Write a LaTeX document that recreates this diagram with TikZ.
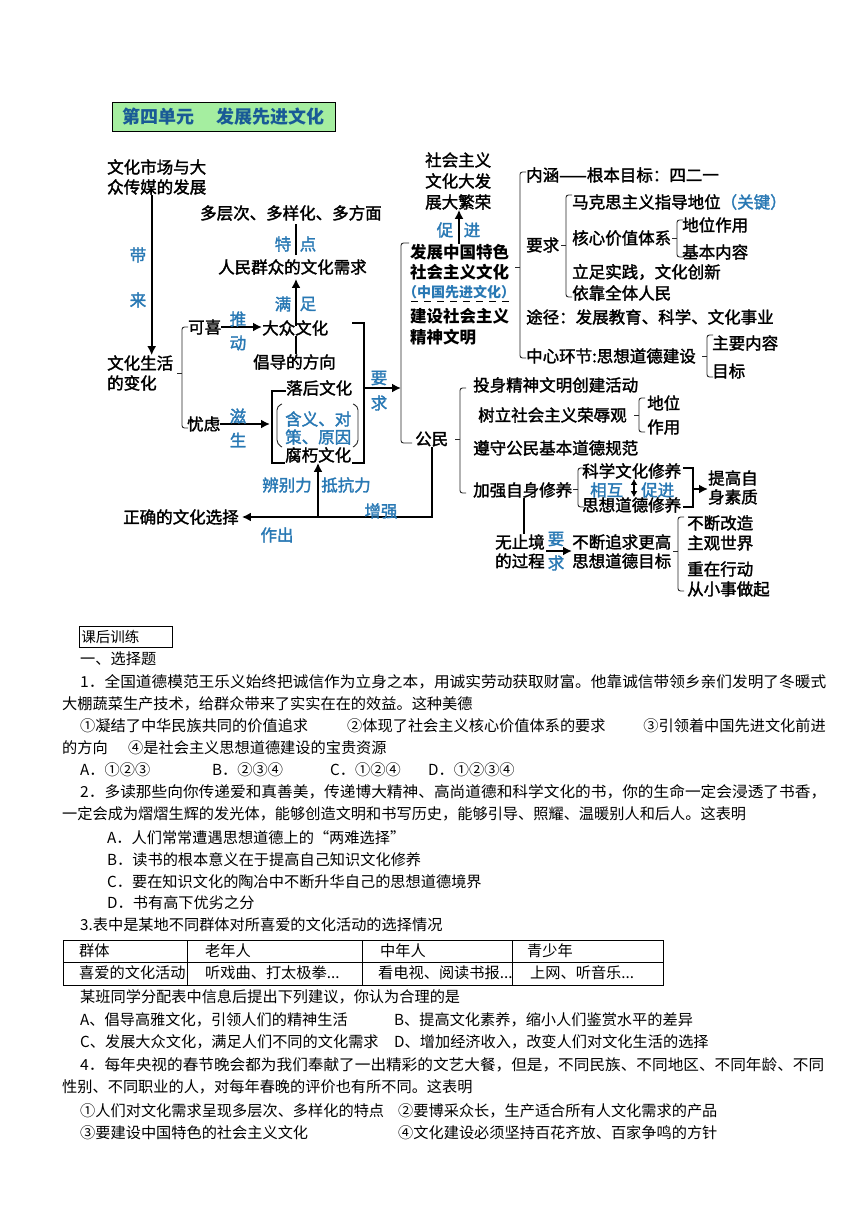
\documentclass[tikz,border=0pt]{standalone}
\usepackage{fontspec}
\usepackage{graphicx}
\usetikzlibrary{arrows.meta}
\setmainfont{Noto Sans CJK SC}
\newfontfamily\dg{Noto Sans CJK SC}[FakeBold=1.8]
\newfontfamily\bd{Noto Sans CJK SC}
\definecolor{lblue}{RGB}{40,120,180}
\definecolor{tblue}{RGB}{25,90,150}
\definecolor{tgreen}{RGB}{165,238,160}
\newcommand{\jl}[2]{\resizebox{#1pt}{\height}{#2}}
\newcommand{\lbrc}[4]{%
  \draw[brk] ({#1+6},#2) -- (#1,#2) -- (#1,#3) -- ({#1+6},#3);
  \draw[brk,rounded corners=0pt] (#1,#4) -- ({#1-5},#4);}
\tikzset{
  t/.style={inner sep=0pt, anchor=west, font=\dg\fontsize{16.5}{18}\selectfont},
  tb/.style={inner sep=0pt, anchor=west, font=\bd\bfseries\fontsize{16.5}{18}\selectfont},
  bl/.style={inner sep=0pt, anchor=center, text=lblue, font=\dg\fontsize{16.5}{18}\selectfont},
  body/.style={inner sep=0pt, anchor=west, font=\bd\fontsize{15.2}{17}\selectfont},
  ln/.style={line width=2pt},
  brk/.style={line width=0.9pt, rounded corners=2.5pt, draw=black!85},
  arr/.style={line width=2pt, -{Latex[length=9pt,width=9pt]}},
}
\begin{document}
\begin{tikzpicture}[x=1pt,y=-1pt]
\useasboundingbox (0,0) rectangle (860,1216);
\fill[white] (0,0) rectangle (860,1216);

% ---------- title ----------
\node[draw, fill=tgreen, line width=0.8pt, minimum width=223pt, minimum height=29pt, inner sep=0pt,
  text=tblue, font=\bd\bfseries\fontsize{18}{20}\selectfont] (title) at (223.5,116.5)
  {第四单元\hspace{22pt}发展先进文化};

% ---------- left part ----------
\node[t] (wh1) at (107,167) {文化市场与大};
\node[t] (wh2) at (107,187) {众传媒的发展};
\node[bl] (dai) at (138,255) {带};
\node[bl] (lai) at (138,300) {来};
\node[t] (wc1) at (107,363) {文化生活};
\node[t] (wc2) at (107,383) {的变化};
\draw[arr] ([xshift=-5pt]wh2.south) -- ([xshift=-5pt]wh2.south |- wc1.north);

\lbrc{182}{327}{428}{373}
\node[t] (kx) at (188,327) {可喜};
\node[t] (yl) at (187,424) {忧虑};
\node[t] (dz) at (262,328) {大众文化};
\node[t] (xq) at (218,267) {人民群众的文化需求};
\node[t] (dc) at (200,213) {多层次、多样化、多方面};
\node[t] (cd) at (253,362) {倡导的方向};
\coordinate (mx) at (296,0);
\draw[arr] (kx.east) -- (kx.east -| dz.west);
\node[bl] (tui) at (238,319) {推};
\node[bl] (dong) at (238,343) {动};
\draw[arr, shorten >=4pt] ([yshift=-6pt]dz.north -| mx) -- (xq.south -| mx);
\node[bl] (man) at (283,304) {满};
\node[bl] (zu) at (308,304) {足};
\draw[ln, shorten >=3pt, shorten <=4pt] (xq.north -| mx) -- (dc.south -| mx);
\node[bl] (te) at (283,244) {特};
\node[bl] (dian) at (308,244) {点};
\draw[ln] (dz.south -| mx) -- (cd.north -| mx);

\node[t] (lh) at (286,388) {落后文化};
\node[t] (fx) at (285,455) {腐朽文化};
\draw[ln] (lh.west) ++(0,3) -- (272,391) -- (272,463) -- (285,463);
\node[bl, anchor=west] (hy1) at (285,419) {含义、对};
\node[bl, anchor=west] (hy2) at (285,437) {策、原因};
\draw[brk, rounded corners=4pt] (282,404) -- (277,406) -- (277,444) -- (282,447);
\draw[brk, rounded corners=4pt] (353,404) -- (358,406) -- (358,444) -- (353,447);
\coordinate (lbx) at (270,0);
\draw[arr] (yl.east) -- (yl.east -| lbx);
\node[bl] (zi) at (238,416) {滋};
\node[bl] (sheng) at (238,440) {生};

\draw[ln] (352,323) -- (364,323) -- (364,463) -- (352,463);
\coordinate (rb) at (364,388);
\coordinate (bigx) at (401,0);
\draw[arr] (rb) -- (rb -| bigx);
\node[bl] (yao1) at (379,378) {要};
\node[bl] (qiu1) at (379,403) {求};

% ---------- middle block ----------
\draw[brk] (409,243) -- (401,243) -- (401,443) -- (412,443);
\node[tb] (f1) at (410,252) {发展中国特色};
\node[tb] (f2) at (410,272) {社会主义文化};
\node[inner sep=0pt, anchor=west, text=lblue, font=\bd\bfseries\fontsize{14}{15}\selectfont] (f3) at (403,292) {（中国先进文化）};
\draw[line width=1pt, dash pattern=on 7pt off 6pt] (411,301) -- (511,301);
\node[tb] (f4) at (410,316) {建设社会主义};
\node[tb] (f5) at (410,337) {精神文明};
\node[t] (s1) at (425,160) {社会主义};
\node[t] (s2) at (425,181) {文化大发};
\node[t] (s3) at (425,202) {展大繁荣};
\coordinate (cx) at (459,0);
\draw[arr] (f1.north -| cx) -- (s3.south -| cx);
\node[bl] (cu) at (445,230) {促};
\node[bl] (jin) at (472,230) {进};

% ---------- right upper ----------
\lbrc{520}{172}{358}{267}
\node[t] (nh) at (526,175) {内涵——根本目标：四二一};
\node[t] (yq) at (526,245) {要求};
\lbrc{566}{195}{297}{245}
\node[t] (m1) at (572,202) {马克思主义指导地位{\color{lblue}（关键）}};
\node[t] (hx) at (572,238) {核心价值体系};
\lbrc{677}{220}{257}{238}
\node[t] (dw) at (682,225) {地位作用};
\node[t] (jb) at (682,252) {基本内容};
\node[t] (lz) at (572,272) {立足实践，文化创新};
\node[t] (yk) at (572,293) {依靠全体人民};
\node[t] (tj) at (526,317) {途径：发展教育、科学、文化事业};
\node[t] (zx) at (526,356) {中心环节:思想道德建设};
\lbrc{707}{335}{377}{356}
\node[t] (zy) at (712,343) {主要内容};
\node[t] (mb) at (712,371) {目标};

% ---------- right lower ----------
\node[t] (gm) at (415,439) {公民};
\lbrc{460}{388}{493}{439}
\node[t] (ts) at (473,385) {投身精神文明创建活动};
\node[t] (sl) at (478,415) {树立社会主义荣辱观};
\lbrc{639}{398}{432}{415}
\node[t] (dw2) at (647,403) {地位};
\node[t] (zy2) at (647,427) {作用};
\node[t] (zs) at (473,448) {遵守公民基本道德规范};
\node[t] (jq) at (473,490) {加强自身修养};
\lbrc{578}{468}{507}{489}
\node[t] (kw) at (582,471) {科学文化修养};
\node[t] (sx) at (582,505) {思想道德修养};
\node[bl, anchor=west] (xh) at (590,490) {相互};
\node[bl, anchor=west] (cj) at (641,490) {促进};
\coordinate (dax) at (634,0);
\draw[line width=1.8pt, {Latex[length=6pt,width=7pt]}-{Latex[length=6pt,width=7pt]}] (kw.south -| dax) -- (sx.north -| dax);
\draw[line width=1.8pt] (683,468) -- (693,468) -- (693,507) -- (683,507);
\node[t] (tg1) at (708,478) {提高自};
\node[t] (tg2) at (708,497) {身素质};
\coordinate (rbr) at (693,489);
\draw[arr] (rbr) -- (rbr -| tg1.west);

\coordinate (vx) at (524,0);
\node[t] (wz1) at (495,542) {无止境};
\node[t] (wz2) at (495,561) {的过程};
\draw[line width=1.5pt] (jq.south -| vx) -- (wz1.north -| vx);
\node[t] (bd1) at (572,542) {不断追求更高};
\node[t] (bd2) at (572,561) {思想道德目标};
\coordinate (ya) at (546,551);
\draw[arr] (ya) -- (ya -| bd1.west);
\node[bl] (yao2) at (556,539) {要};
\node[bl] (qiu2) at (556,563) {求};
\lbrc{678}{517}{591}{551}
\node[t] (gz1) at (687,523) {不断改造};
\node[t] (gz2) at (687,543) {主观世界};
\node[t] (zz1) at (687,569) {重在行动};
\node[t] (zz2) at (687,589) {从小事做起};

% ---------- bottom arrows ----------
\node[t] (zq) at (123,517) {正确的文化选择};
\coordinate (gmx) at (432,517);
\draw[arr, shorten >=3pt] (gm.south -| gmx) -- (gmx) -- (gmx -| zq.east);
\coordinate (vb) at (318,517);
\draw[arr] (vb) -- (vb |- fx.south);
\node[bl] (bbl) at (287,485) {辨别力};
\node[bl] (dkl) at (346,485) {抵抗力};
\node[bl] (zq2) at (381,511) {增强};
\node[bl] (zc) at (277,535) {作出};

% ---------- exercises ----------
\node[draw, line width=0.7pt, anchor=west, inner sep=0pt, minimum height=21pt, minimum width=93pt,
  text width=89pt, align=left, font=\bd\fontsize{14.5}{16}\selectfont] (kh) at (79,637) {课后训练};
\node[body] (xz) at (80,659) {一、选择题};
\node[body] (q1a) at (80,682) {\jl{746}{1．全国道德模范王乐义始终把诚信作为立身之本，用诚实劳动获取财富。他靠诚信带领乡亲们发明了冬暖式}};
\node[body] (q1b) at (62,704) {大棚蔬菜生产技术，给群众带来了实实在在的效益。这种美德};
\node[body] (q1c1) at (80,726) {①凝结了中华民族共同的价值追求};
\node[body] (q1c2) at (347,726) {②体现了社会主义核心价值体系的要求};
\node[body, anchor=east] (q1c3) at (826,726) {③引领着中国先进文化前进};
\node[body] (q1d1) at (62,748) {的方向};
\node[body] (q1d2) at (128,748) {④是社会主义思想道德建设的宝贵资源};
\node[body] (q1e1) at (80,770) {A．①②③};
\node[body] (q1e2) at (212,770) {B．②③④};
\node[body] (q1e3) at (330,770) {C．①②④};
\node[body] (q1e4) at (428,770) {D．①②③④};

\node[body] (q2a) at (80,792) {\jl{746}{2．多读那些向你传递爱和真善美，传递博大精神、高尚道德和科学文化的书，你的生命一定会浸透了书香，}};
\node[body] (q2b) at (62,814) {一定会成为熠熠生辉的发光体，能够创造文明和书写历史，能够引导、照耀、温暖别人和后人。这表明};
\node[body] (q2A) at (107,838) {A．人们常常遭遇思想道德上的“两难选择”};
\node[body] (q2B) at (107,860) {B．读书的根本意义在于提高自己知识文化修养};
\node[body] (q2C) at (107,882) {C．要在知识文化的陶冶中不断升华自己的思想道德境界};
\node[body] (q2D) at (107,903) {D．书有高下优劣之分};

\node[body] (q3) at (80,925) {3.表中是某地不同群体对所喜爱的文化活动的选择情况};
\draw[line width=0.8pt] (63,940) rectangle (663,985);
\draw[line width=0.8pt] (63,962) -- (663,962);
\draw[line width=0.8pt] (187,940) -- (187,985);
\draw[line width=0.8pt] (362,940) -- (362,985);
\draw[line width=0.8pt] (512,940) -- (512,985);
\node[body] (c11) at (79,951) {群体};
\node[body] (c12) at (205,951) {老年人};
\node[body] (c13) at (380,951) {中年人};
\node[body] (c14) at (527,951) {青少年};
\node[body] (c21) at (79,973) {喜爱的文化活动};
\node[body] (c22) at (205,973) {听戏曲、打太极拳...};
\node[body] (c23) at (378,973) {看电视、阅读书报...};
\node[body] (c24) at (530,973) {上网、听音乐...};
\node[body] (q3b) at (80,997) {某班同学分配表中信息后提出下列建议，你认为合理的是};
\node[body] (q3A) at (80,1020) {A、倡导高雅文化，引领人们的精神生活};
\node[body] (q3B) at (394,1020) {B、提高文化素养，缩小人们鉴赏水平的差异};
\node[body] (q3C) at (80,1042) {C、发展大众文化，满足人们不同的文化需求};
\node[body] (q3D) at (394,1042) {D、增加经济收入，改变人们对文化生活的选择};

\node[body] (q4a) at (80,1065) {\jl{744}{4．每年央视的春节晚会都为我们奉献了一出精彩的文艺大餐，但是，不同民族、不同地区、不同年龄、不同}};
\node[body] (q4b) at (62,1087) {性别、不同职业的人，对每年春晚的评价也有所不同。这表明};
\node[body] (q4c1) at (80,1111) {①人们对文化需求呈现多层次、多样化的特点};
\node[body] (q4c2) at (398,1111) {②要博采众长，生产适合所有人文化需求的产品};
\node[body] (q4d1) at (80,1133) {③要建设中国特色的社会主义文化};
\node[body] (q4d2) at (398,1133) {④文化建设必须坚持百花齐放、百家争鸣的方针};
\end{tikzpicture}
\end{document}
